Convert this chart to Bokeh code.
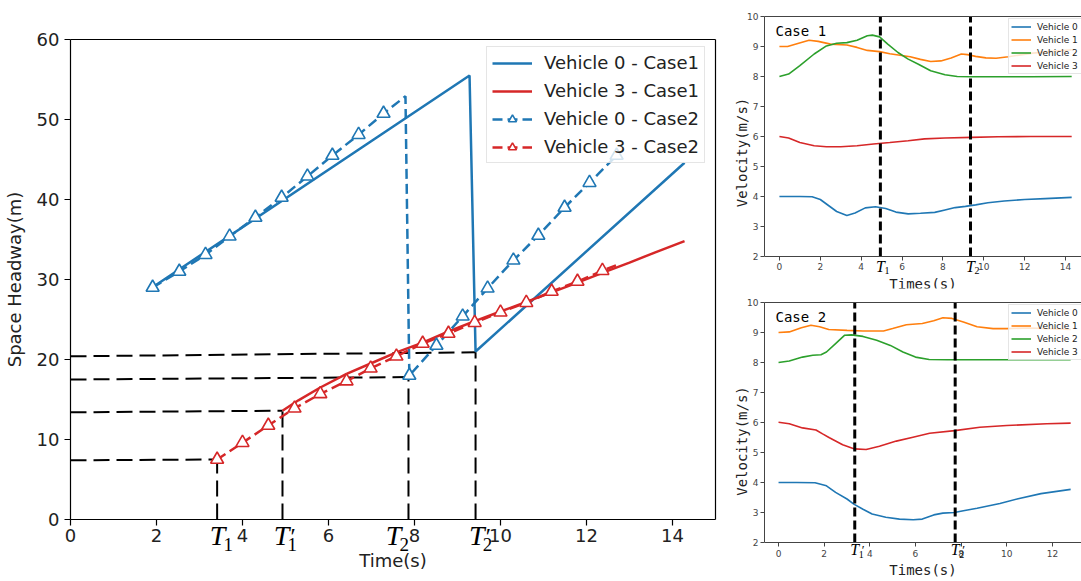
from bokeh.plotting import figure
from bokeh.models import Range1d, FixedTicker, Label, Legend, LegendItem, LinearAxis
from bokeh.layouts import row, column
from bokeh.embed import file_html
from bokeh.resources import INLINE

# ---------------- Left chart: space headway ----------------
v0c1_t = [1.90, 9.28, 9.42, 14.28]
v0c1_h = [29.0, 55.5, 21.0, 44.6]

v3c1_t = [4.93, 5.30, 5.81, 6.42, 6.98, 7.58, 8.19, 8.79, 9.40, 10.00, 10.60, 11.19, 11.79, 12.40, 13.00, 13.60, 14.28]
v3c1_h = [13.6, 14.9, 16.5, 18.2, 19.5, 20.9, 22.1, 23.5, 24.8, 26.0, 27.2, 28.4, 29.6, 30.9, 32.1, 33.4, 34.8]

v0c2_t = [1.91, 2.53, 3.14, 3.70, 4.30, 4.91, 5.51, 6.09, 6.70, 7.28, 7.79, 7.88, 8.51, 9.12, 9.70, 10.30, 10.88, 11.49, 12.07, 12.70]
v0c2_h = [29.0, 31.0, 33.1, 35.4, 37.75, 40.25, 42.9, 45.5, 48.1, 50.75, 52.9, 18.0, 21.75, 25.4, 28.9, 32.4, 35.5, 39.0, 42.1, 45.5]
v0c2_marked = [1, 1, 1, 1, 1, 1, 1, 1, 1, 1, 0, 1, 1, 1, 1, 1, 1, 1, 1, 1]

v3c2_t = [3.41, 4.00, 4.60, 5.21, 5.81, 6.42, 6.98, 7.58, 8.19, 8.79, 9.40, 10.00, 10.60, 11.19, 11.79, 12.37, 12.75]
v3c2_h = [7.5, 9.6, 11.75, 13.9, 15.7, 17.3, 18.9, 20.4, 22.0, 23.25, 24.6, 25.9, 27.1, 28.5, 29.75, 31.1, 31.9]
v3c2_marked = [1, 1, 1, 1, 1, 1, 1, 1, 1, 1, 1, 1, 1, 1, 1, 1, 0]

# guide lines (T1, T1', T2, T2')
guide_t = [3.41, 4.93, 7.86, 9.42]
guide_h_left = [7.4, 13.4, 17.5, 20.4]
guide_h_right = [7.5, 13.6, 17.8, 20.9]
tlabel_x = [3.42, 4.905, 7.51, 9.45]
tlabel_sub = ["1", "1", "2", "2"]
tlabel_prime = [False, True, False, True]

left_xlim = (0, 15)
left_ylim = (0, 60)
left_xticks = [0, 2, 4, 6, 8, 10, 12, 14]
left_yticks = [0, 10, 20, 30, 40, 50, 60]

# ---------------- Right charts: velocity ----------------
c1_t0 = [0, 1.0, 1.6, 2.0, 2.4, 2.8, 3.3, 3.7, 4.2, 4.7, 5.2, 5.7, 6.3, 6.9, 7.6, 8.1, 8.6, 9.1, 9.6, 10.2, 11.0, 12.0, 13.0, 14.3]
c1_v0 = [4.0, 4.0, 3.99, 3.9, 3.7, 3.5, 3.37, 3.45, 3.62, 3.66, 3.6, 3.48, 3.42, 3.44, 3.47, 3.55, 3.63, 3.67, 3.72, 3.79, 3.85, 3.9, 3.93, 3.97]
c1_t1 = [0, 0.4, 0.9, 1.45, 1.9, 2.5, 3.3, 3.8, 4.3, 4.9, 5.4, 5.9, 6.4, 6.9, 7.4, 7.9, 8.4, 8.9, 9.2, 9.6, 10.1, 10.6, 11.2, 11.8, 12.4, 13.2, 14.3]
c1_v1 = [9.0, 9.0, 9.1, 9.21, 9.17, 9.08, 9.05, 8.97, 8.87, 8.83, 8.76, 8.71, 8.66, 8.57, 8.5, 8.52, 8.62, 8.75, 8.73, 8.67, 8.62, 8.61, 8.66, 8.72, 8.78, 8.83, 8.89]
c1_t2 = [0, 0.45, 1.0, 1.7, 2.3, 2.8, 3.3, 3.8, 4.3, 4.55, 4.9, 5.3, 5.8, 6.3, 6.8, 7.4, 8.1, 8.7, 9.4, 10.7, 12.3, 14.3]
c1_v2 = [8.0, 8.08, 8.36, 8.75, 9.02, 9.11, 9.13, 9.21, 9.36, 9.38, 9.32, 9.08, 8.8, 8.58, 8.41, 8.19, 8.06, 8.0, 7.99, 7.99, 7.99, 8.0]
c1_t3 = [0, 0.45, 1.0, 1.7, 2.3, 3.0, 3.8, 4.6, 5.4, 6.3, 7.1, 8.1, 9.4, 10.7, 12.3, 14.3]
c1_v3 = [6.0, 5.95, 5.8, 5.69, 5.66, 5.66, 5.69, 5.75, 5.8, 5.86, 5.92, 5.95, 5.97, 5.99, 6.0, 6.0]
c1_marks = [4.94, 9.35]

c2_t0 = [0, 0.8, 1.6, 2.1, 2.5, 3.0, 3.3, 3.7, 4.1, 4.7, 5.3, 5.9, 6.3, 6.8, 7.2, 7.7, 8.1, 8.7, 9.7, 10.5, 11.5, 12.8]
c2_v0 = [4.0, 4.0, 3.99, 3.89, 3.67, 3.45, 3.28, 3.11, 2.95, 2.84, 2.78, 2.76, 2.78, 2.92, 2.98, 3.0, 3.06, 3.14, 3.3, 3.46, 3.63, 3.77]
c2_t1 = [0, 0.47, 1.0, 1.42, 1.8, 2.2, 3.0, 3.7, 4.6, 5.0, 5.6, 6.3, 6.8, 7.2, 7.6, 8.1, 8.7, 9.4, 10.0, 11.0, 12.8]
c2_v1 = [9.0, 9.02, 9.16, 9.24, 9.19, 9.1, 9.07, 9.05, 9.05, 9.13, 9.26, 9.3, 9.39, 9.49, 9.47, 9.35, 9.19, 9.13, 9.13, 9.15, 9.1]
c2_t2 = [0, 0.47, 1.05, 1.5, 1.86, 2.1, 2.5, 2.9, 3.2, 3.7, 4.3, 4.9, 5.45, 6.0, 6.6, 7.4, 8.1, 9.5, 12.8]
c2_v2 = [8.0, 8.05, 8.18, 8.24, 8.26, 8.35, 8.63, 8.91, 8.92, 8.87, 8.74, 8.57, 8.35, 8.18, 8.1, 8.09, 8.09, 8.09, 8.09]
c2_t3 = [0, 0.47, 1.05, 1.64, 1.93, 2.23, 2.81, 3.33, 3.84, 4.42, 5.16, 5.89, 6.62, 7.72, 8.82, 10.0, 11.75, 12.8]
c2_v3 = [6.01, 5.96, 5.82, 5.75, 5.62, 5.49, 5.26, 5.12, 5.1, 5.21, 5.38, 5.51, 5.64, 5.73, 5.84, 5.9, 5.96, 5.98]
c2_marks = [3.34, 7.74]

vehicle_names = ["Vehicle 0", "Vehicle 1", "Vehicle 2", "Vehicle 3"]
top_xticks = [0, 2, 4, 6, 8, 10, 12, 14]
bot_xticks = [0, 2, 4, 6, 8, 10, 12]
vel_yticks = [2, 3, 4, 5, 6, 7, 8, 9, 10]

BLUE = "#1f77b4"
ORANGE = "#ff7f0e"
GREEN = "#2ca02c"
RED = "#d62728"
TXT = "#222222"
SERIF = "Liberation Serif"


def t_labels(fig, xs, subs, primes, y_base, y_sub, big, small, psize, dx_sub, dx_prime):
    for x, s, pr in zip(xs, subs, primes):
        fig.add_layout(Label(x=x, y=y_base, text="T", text_font=SERIF, text_font_style="italic",
                             text_font_size=big, text_align="center", text_baseline="alphabetic",
                             text_color="black"))
        fig.add_layout(Label(x=x, y=y_sub, x_offset=dx_sub, text=s, text_font=SERIF,
                             text_font_size=small, text_align="left", text_baseline="alphabetic",
                             text_color="black"))
        if pr:
            fig.add_layout(Label(x=x, y=y_base, x_offset=dx_prime, text="\u2032", text_font=SERIF,
                                 text_font_size=psize, text_align="left", text_baseline="alphabetic",
                                 text_color="black"))


def blank_axis(color, bounds="auto", width=1.0, fixed=None):
    return LinearAxis(ticker=FixedTicker(ticks=[]), major_label_text_font_size="0px",
                      major_tick_line_color=None, minor_tick_line_color=None,
                      axis_line_color=color, axis_line_width=width, bounds=bounds,
                      major_label_standoff=0, fixed_location=fixed)


# ---------------- build left figure ----------------
W_L, H_L = 722, 581
PX_X, PX_Y = 43.0, 8.0          # pixels per data unit
FRAME_L, FRAME_B, FRAME_T = 70, 62, 39
x0 = left_xlim[0] - FRAME_L / PX_X
y0 = left_ylim[0] - FRAME_B / PX_Y
p = figure(width=W_L, height=H_L,
           x_range=Range1d(x0, x0 + W_L / PX_X),
           y_range=Range1d(y0, left_ylim[1] + FRAME_T / PX_Y),
           output_backend="svg", toolbar_location=None,
           min_border_left=0, min_border_right=0, min_border_top=0, min_border_bottom=0)
p.xgrid.visible = False
p.ygrid.visible = False
p.outline_line_color = None
for ax in (p.xaxis[0], p.yaxis[0]):
    ax.axis_line_color = "black"
    ax.axis_line_width = 1.2
    ax.major_tick_line_color = "black"
    ax.major_tick_line_width = 1.2
    ax.major_tick_in = 0
    ax.major_tick_out = 6
    ax.minor_tick_line_color = None
    ax.major_label_text_font = "DejaVu Sans"
    ax.major_label_text_font_size = "18px"
    ax.major_label_text_color = TXT
    ax.axis_label_text_font = "DejaVu Sans"
    ax.axis_label_text_font_size = "18px"
    ax.axis_label_text_font_style = "normal"
    ax.axis_label_text_color = TXT
p.xaxis[0].ticker = FixedTicker(ticks=left_xticks)
p.yaxis[0].ticker = FixedTicker(ticks=left_yticks)
p.xaxis[0].fixed_location = left_ylim[0]
p.xaxis[0].bounds = left_xlim
p.yaxis[0].fixed_location = left_xlim[0]
p.yaxis[0].bounds = left_ylim
p.xaxis[0].axis_label = "Time(s)"
p.yaxis[0].axis_label = "Space Headway(m)"
p.xaxis[0].major_label_standoff = 3
p.xaxis[0].axis_label_standoff = 5
p.yaxis[0].major_label_standoff = 5
p.yaxis[0].axis_label_standoff = 9
p.add_layout(blank_axis("black", bounds=left_xlim, width=1.2, fixed=left_ylim[1]), "above")
p.add_layout(blank_axis("black", bounds=left_ylim, width=1.2, fixed=left_xlim[1]), "right")

# guide lines
p.segment(x0=[left_xlim[0]] * len(guide_t), y0=guide_h_left, x1=guide_t, y1=guide_h_right,
          line_color="black", line_width=2, line_dash="16 7")
p.segment(x0=guide_t, y0=[left_ylim[0]] * len(guide_t), x1=guide_t, y1=guide_h_right,
          line_color="black", line_width=2, line_dash="16 7")

r_v0c1 = p.line(v0c1_t, v0c1_h, line_color=BLUE, line_width=2.5)
r_v3c1 = p.line(v3c1_t, v3c1_h, line_color=RED, line_width=2.5)
r_v0c2 = p.line(v0c2_t, v0c2_h, line_color=BLUE, line_width=2.5, line_dash="10 5")
r_v3c2 = p.line(v3c2_t, v3c2_h, line_color=RED, line_width=2.5, line_dash="10 5")
m0x = [t for t, m in zip(v0c2_t, v0c2_marked) if m]
m0y = [h for h, m in zip(v0c2_h, v0c2_marked) if m]
m3x = [t for t, m in zip(v3c2_t, v3c2_marked) if m]
m3y = [h for h, m in zip(v3c2_h, v3c2_marked) if m]
s_v0c2 = p.scatter(m0x, m0y, marker="triangle", size=13, line_color=BLUE, line_width=1.6, fill_color="white")
s_v3c2 = p.scatter(m3x, m3y, marker="triangle", size=13, line_color=RED, line_width=1.6, fill_color="white")

leg = Legend(items=[
    LegendItem(label="Vehicle 0 - Case1", renderers=[r_v0c1]),
    LegendItem(label="Vehicle 3 - Case1", renderers=[r_v3c1]),
    LegendItem(label="Vehicle 0 - Case2", renderers=[r_v0c2, s_v0c2]),
    LegendItem(label="Vehicle 3 - Case2", renderers=[r_v3c2, s_v3c2]),
], location=(486, H_L - 163), padding=5, spacing=7,
    label_text_font="DejaVu Sans", label_text_font_size="18px", label_text_color=TXT,
    glyph_width=40, glyph_height=20, label_height=20, label_standoff=12,
    border_line_color="#cccccc", border_line_width=1, background_fill_alpha=0.8)
p.add_layout(leg)

t_labels(p, tlabel_x, tlabel_sub, tlabel_prime, y_base=-2.0, y_sub=-3.1,
         big="28px", small="19px", psize="24px", dx_sub=6, dx_prime=9)


# ---------------- right figures ----------------
def vel_fig(h, mb_top, y_start, frame_h, xr, xticks, series, marks, case_text, case_y,
            tb, ts, subs, primes):
    f = figure(width=359, height=h, x_range=Range1d(*xr), y_range=Range1d(y_start, vel_yticks[-1]),
               output_backend="svg", toolbar_location=None,
               min_border_left=42, min_border_right=0, min_border_top=mb_top,
               min_border_bottom=2)
    f.xgrid.visible = False
    f.ygrid.visible = False
    f.outline_line_color = None
    spine = "#444444"
    for ax in (f.xaxis[0], f.yaxis[0]):
        ax.axis_line_color = spine
        ax.major_tick_line_color = spine
        ax.major_tick_in = 0
        ax.major_tick_out = 4
        ax.minor_tick_line_color = None
        ax.major_label_text_font = "DejaVu Sans"
        ax.major_label_text_font_size = "9px"
        ax.major_label_text_color = "#444444"
        ax.axis_label_text_font = "DejaVu Sans Mono"
        ax.axis_label_text_font_size = "14px"
        ax.axis_label_text_font_style = "normal"
        ax.axis_label_text_color = TXT
    f.xaxis[0].ticker = FixedTicker(ticks=xticks)
    f.yaxis[0].ticker = FixedTicker(ticks=vel_yticks)
    f.xaxis[0].fixed_location = vel_yticks[0]
    f.yaxis[0].bounds = (vel_yticks[0], vel_yticks[-1])
    f.xaxis[0].axis_label = "Times(s)"
    f.yaxis[0].axis_label = "Velocity(m/s)"
    f.xaxis[0].major_label_standoff = 3
    f.xaxis[0].axis_label_standoff = 2
    f.yaxis[0].major_label_standoff = 2
    f.yaxis[0].axis_label_standoff = -6
    f.add_layout(blank_axis(spine), "above")

    items = []
    for (t, v, col), name in zip(series, vehicle_names):
        r = f.line(t, v, line_color=col, line_width=1.6)
        items.append(LegendItem(label=name, renderers=[r]))
    f.segment(x0=marks, y0=[vel_yticks[0]] * len(marks), x1=marks,
              y1=[vel_yticks[-1]] * len(marks), line_color="black", line_width=3, line_dash="9 4")

    leg = Legend(items=items, location=(244, frame_h - 4 - 54), padding=2, spacing=2,
                 label_text_font="DejaVu Sans", label_text_font_size="9px", label_text_color=TXT,
                 glyph_width=20, glyph_height=11, label_height=11, label_standoff=6,
                 label_width=60,
                 border_line_color="#cccccc", background_fill_alpha=0.8)
    f.add_layout(leg)

    f.add_layout(Label(x=xr[0], x_offset=11, y=case_y, text=case_text,
                       text_font="DejaVu Sans Mono", text_font_size="14px",
                       text_baseline="alphabetic", text_color="black"))
    t_labels(f, marks, subs, primes, y_base=tb, y_sub=ts, big="16px", small="10px",
             psize="13px", dx_sub=4, dx_prime=7)
    return f


f1 = vel_fig(290, 16, 0.933, 272, (-0.73, 14.78), top_xticks,
             [(c1_t0, c1_v0, BLUE), (c1_t1, c1_v1, ORANGE), (c1_t2, c1_v2, GREEN), (c1_t3, c1_v3, RED)],
             c1_marks, "Case 1", 9.53, 1.667, 1.54, ["1", "2"], [False, False])
f2 = vel_fig(291, 12, 0.767, 277, (-0.615, 13.275), bot_xticks,
             [(c2_t0, c2_v0, BLUE), (c2_t1, c2_v1, ORANGE), (c2_t2, c2_v2, GREEN), (c2_t3, c2_v3, RED)],
             c2_marks, "Case 2", 9.53, 1.767, 1.60, ["1", "2"], [True, True])

layout = row(p, column(f1, f2, spacing=0), spacing=0)
open("out.html", "w").write(file_html(layout, INLINE))
